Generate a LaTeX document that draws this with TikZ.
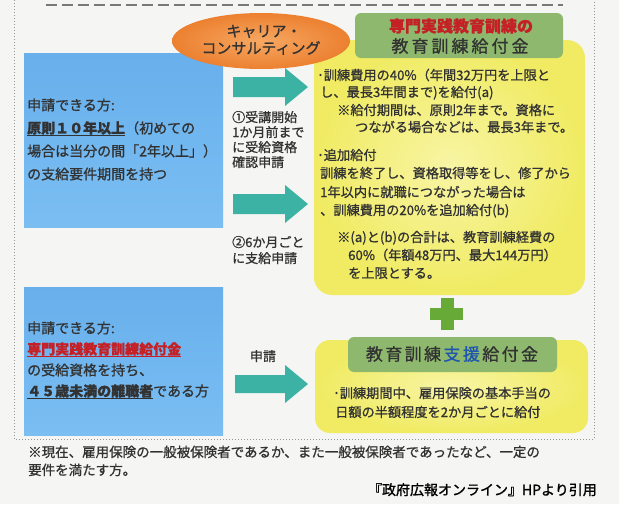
\documentclass[tikz,border=0pt]{standalone}
\usepackage{fontspec}
\newfontfamily\jp{Noto Sans CJK JP}[FakeBold=0.9]
\newfontfamily\jpsrc{Noto Sans CJK JP}[FakeBold=1.4]
\usetikzlibrary{shapes.geometric}
\definecolor{bg}{RGB}{245,245,243}
\definecolor{framec}{RGB}{150,150,150}
\definecolor{dashc}{RGB}{120,120,120}
\definecolor{bluetop}{RGB}{104,175,236}
\definecolor{bluebot}{RGB}{122,190,242}
\definecolor{teal}{RGB}{60,178,165}
\definecolor{orin}{RGB}{246,168,98}
\definecolor{orout}{RGB}{236,128,48}
\definecolor{grn}{RGB}{141,184,110}
\definecolor{plusc}{RGB}{104,170,56}
\definecolor{ylin}{RGB}{248,245,165}
\definecolor{ylout}{RGB}{240,235,98}
\definecolor{txt}{RGB}{50,50,50}
\definecolor{redt}{RGB}{196,32,38}
\definecolor{bluet}{RGB}{30,85,175}
\newcommand\myul[1]{\setbox0=\hbox{#1}\rlap{\rule[-2.6pt]{\wd0}{1.1pt}}\box0}
\tikzset{
  bt/.style={font=\jp\fontsize{14}{16}\selectfont, inner sep=0pt, anchor=base west, text=txt},
  yt/.style={font=\jp\fontsize{13.2}{16}\selectfont, inner sep=0pt, anchor=base west, text=txt},
  lt/.style={font=\jp\fontsize{13}{15}\selectfont, inner sep=0pt, anchor=base west, text=txt},
  nt/.style={font=\jp\fontsize{13.5}{16}\selectfont, inner sep=0pt, anchor=base west, text=txt},
  hd/.style={font=\jp\fontsize{17}{19}\selectfont, inner sep=0pt, anchor=center, text=txt},
  bluebox/.style={top color=bluetop, bottom color=bluebot, draw=none},
  yellowbox/.style={inner color=ylin, outer color=ylout, draw=none},
  greenbox/.style={fill=grn, rounded corners=6pt},
  blockarrow/.style={fill=teal},
}
\begin{document}
\begin{tikzpicture}[x=1pt,y=-1pt]
\useasboundingbox (0,0) rectangle (619,504);
\fill[bg] (0,0) rectangle (619,504);
% frame
\draw[framec, line width=0.8pt, dash pattern=on 1pt off 2pt] (14,0) -- (14,439) -- (594,439) -- (594,0);
\draw[dashc, line width=2.6pt, dash pattern=on 11pt off 5pt] (46,5) -- (563,5);
% blue boxes
\shade[bluebox] (24,53) rectangle (223,227);
\shade[bluebox] (24,287) rectangle (223,435);
% yellow boxes
\shade[yellowbox, rounded corners=18pt] (314,40) rectangle (585,295);
\shade[yellowbox, rounded corners=15pt] (315,340) rectangle (588,433);
% green headers
\fill[greenbox] (355,13) rectangle (563,58);
\fill[greenbox] (348,337) rectangle (557,372);
% ellipse
\node[ellipse, minimum width=178pt, minimum height=56pt, inner sep=0pt, inner color=orin, outer color=orout] (cc) at (261,41) {};
% arrows
\fill[blockarrow] (233,77) -- (285,77) -- (285,68) -- (308,87) -- (285,106) -- (285,97) -- (233,97) -- cycle;
\fill[blockarrow] (233,194) -- (285,194) -- (285,185) -- (308,204) -- (285,223) -- (285,214) -- (233,214) -- cycle;
\fill[blockarrow] (235,375) -- (285,375) -- (285,365) -- (308,384) -- (285,403) -- (285,393) -- (235,393) -- cycle;
% plus
\fill[plusc] (440.5,298) rectangle (453.5,330);
\fill[plusc] (430,308) rectangle (463,320);
% ellipse text
\node[font=\jp\fontsize{15}{17}\selectfont, inner sep=0pt, anchor=base, text=txt] (cc1) at (264,36.7) {キャリア・};
\node[font=\jp\fontsize{15}{17}\selectfont, inner sep=0pt, anchor=base, text=txt] (cc2) at (261,53.7) {コンサルティング};
% headers
\node[font=\jp\bfseries\fontsize{16}{18}\selectfont, inner sep=0pt, anchor=center, text=redt] (h1a) at (461,26) {専門実践教育訓練の};
\node[hd] (h1b) at (460,46) {教\kern3pt 育\kern3pt 訓\kern3pt 練\kern3pt 給\kern3pt 付\kern3pt 金};
\node[hd] (h2) at (452,354) {教\kern2.4pt 育\kern2.4pt 訓\kern2.4pt 練\kern2.4pt \textcolor{bluet}{支\kern2.4pt 援}\kern2.4pt 給\kern2.4pt 付\kern2.4pt 金};
% blue box 1 text
\node[bt] (b1) at (27,110.3) {申請できる方:};
\node[bt] (b2) at (27,133.3) {{\bfseries\myul{原則１０年以上}}（初めての};
\node[bt] (b3) at (27,156.3) {場合は当分の間「2年以上」）};
\node[bt] (b4) at (27,179.3) {の支給要件期間を持つ};
% blue box 2 text
\node[bt] (c1) at (27,333.3) {申請できる方:};
\node[bt] (c2) at (27,354.3) {\textcolor{redt}{\bfseries\myul{専門実践教育訓練給付金}}};
\node[bt] (c3) at (27,375.3) {の受給資格を持ち、};
\node[bt] (c4) at (27,396.3) {{\bfseries\myul{４５歳未満の離職者}}である方};
% middle labels
\node[lt] (l1) at (232,122) {①受講開始};
\node[lt] (l2) at (232,137) {1か月前まで};
\node[lt] (l3) at (232,152) {に受給資格};
\node[lt] (l4) at (232,167) {確認申請};
\node[lt] (l5) at (232,247) {②6か月ごと};
\node[lt] (l6) at (232,263) {に支給申請};
\node[lt, anchor=base] (l7) at (263,361) {申請};
% yellow 1 text
\node[yt] (y1) at (317,80) {･訓練費用の40\%（年間32万円を上限と};
\node[yt] (y2) at (320,97) {し、最長3年間まで)を給付(a)};
\node[yt] (y3) at (337,115) {※給付期間は、原則2年まで。資格に};
\node[yt] (y4) at (355,132) {つながる場合などは、最長3年まで。};
\node[yt] (y5) at (317,160) {･追加給付};
\node[yt] (y6) at (320,178) {訓練を終了し、資格取得等をし、修了から};
\node[yt] (y7) at (320,197) {1年以内に就職につながった場合は};
\node[yt] (y8) at (320,215) {、訓練費用の20\%を追加給付(b)};
\node[yt] (y9) at (337,242) {※(a)と(b)の合計は、教育訓練経費の};
\node[yt] (y10) at (348,260) {60\%（年額48万円、最大144万円）};
\node[yt] (y11) at (348,278) {を上限とする。};
% yellow 2 text
\node[yt] (z1) at (333,398) {･訓練期間中、雇用保険の基本手当の};
\node[yt] (z2) at (335,417) {日額の半額程度を2か月ごとに給付};
% bottom notes
\node[nt] (n1) at (28,457) {※現在、雇用保険の一般被保険者であるか、また一般被保険者であったなど、一定の};
\node[nt] (n2) at (28,475) {要件を満たす方。};
\node[font=\jpsrc\fontsize{14}{16}\selectfont, inner sep=0pt, anchor=base east, text=black] (src) at (597,495) {『政府広報オンライン』HPより引用};
\end{tikzpicture}
\end{document}
